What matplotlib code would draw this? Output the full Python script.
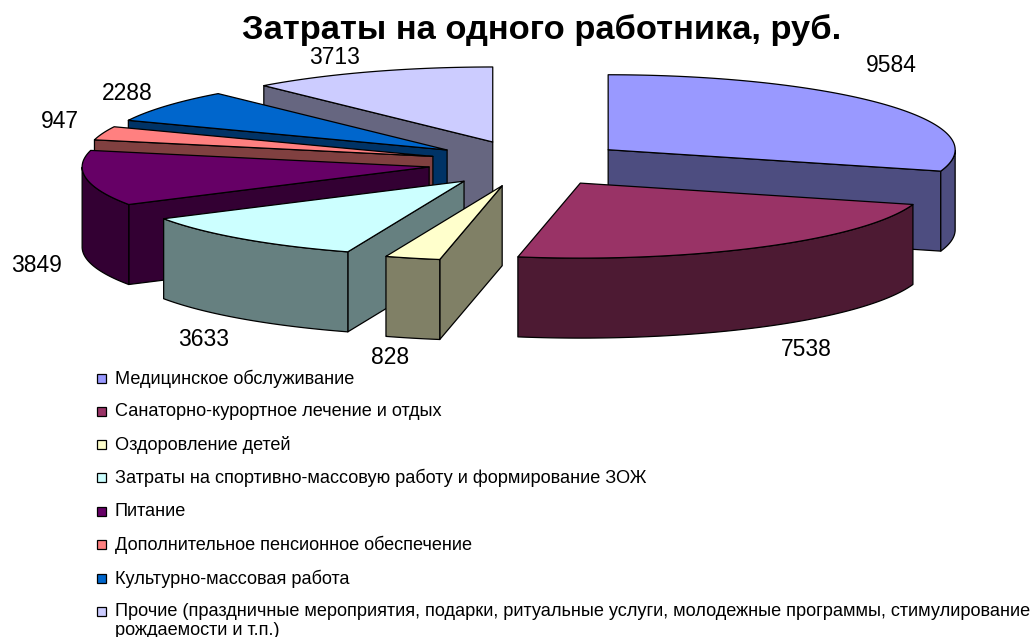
import numpy as np
import matplotlib
matplotlib.use('Agg')
import matplotlib.pyplot as plt
from matplotlib.patches import Polygon, Rectangle

plt.rcParams['font.family'] = ['Liberation Sans', 'DejaVu Sans']

title = 'Затраты на одного работника, руб.'
values = [9584, 7538, 828, 3633, 3849, 947, 2288, 3713]
categories = [
    'Медицинское обслуживание',
    'Санаторно-курортное лечение и отдых',
    'Оздоровление детей',
    'Затраты на спортивно-массовую работу и формирование ЗОЖ',
    'Питание',
    'Дополнительное пенсионное обеспечение',
    'Культурно-массовая работа',
    'Прочие (праздничные мероприятия, подарки, ритуальные услуги, молодежные программы, стимулирование\nрождаемости и т.п.)',
]
top_colors = ['#9999FF', '#993366', '#FFFFCC', '#CCFFFF', '#660066', '#FF8080', '#0066CC', '#CCCCFF']
side_colors = ['#4D4D80', '#4D1A33', '#808066', '#668080', '#330033', '#804040', '#003366', '#666680']

# where the value labels sit, in pixels
label_pos = [(891, 65), (806, 349), (390, 358), (204, 339), (37, 266), (60, 122), (127, 94), (335, 57)]
legend_y = [378, 411, 444, 477, 511, 544, 578, 611]

W, H = 1032, 637
cx, cy = 528, 163.5   # pie centre before explosion
rx, ry = 347, 75
ex, ey = 100, 23      # explosion
depth = 80


def rim(t, x0, y0):
    return x0 + rx * np.sin(t), y0 - ry * np.cos(t)


fig = plt.figure(figsize=(W / 100, H / 100), dpi=100, facecolor='white')
ax = fig.add_axes([0, 0, 1, 1])
ax.set_xlim(0, W)
ax.set_ylim(H, 0)
ax.axis('off')

edges = np.cumsum([0] + values) / sum(values) * 2 * np.pi
slices = []
for i in range(len(values)):
    t0, t1 = edges[i], edges[i + 1]
    mid = (t0 + t1) / 2
    slices.append((cy - ey * np.cos(mid), cx + ex * np.sin(mid), t0, t1, i))

for y0, x0, t0, t1, i in sorted(slices):
    ts = np.linspace(t0, t1, 120)
    xs, ys = rim(ts, x0, y0)
    kw = dict(edgecolor='black', linewidth=0.9, joinstyle='round')

    # radial faces turned to the viewer
    for t, visible in ((t0, np.sin(t0) < 0), (t1, np.sin(t1) > 0)):
        if visible:
            xe, ye = rim(t, x0, y0)
            ax.add_patch(Polygon([(x0, y0), (xe, ye), (xe, ye + depth), (x0, y0 + depth)],
                                 facecolor=side_colors[i], **kw))
    # outer wall, front half only
    front = ts[(ts >= np.pi / 2) & (ts <= 3 * np.pi / 2)]
    if len(front) > 1:
        xf, yf = rim(front, x0, y0)
        wall = np.r_[np.c_[xf, yf], np.c_[xf, yf + depth][::-1]]
        ax.add_patch(Polygon(wall, facecolor=side_colors[i], **kw))
    # top
    ax.add_patch(Polygon(np.r_[[[x0, y0]], np.c_[xs, ys]], facecolor=top_colors[i], **kw))

for val, (lx, ly) in zip(values, label_pos):
    ax.text(lx, ly, str(val), fontsize=16.5, ha='center', va='center', color='black')

ax.text(542, 30, title, fontsize=24.8, fontweight='bold', ha='center', va='center', color='black')

for name, col, y in zip(categories, top_colors, legend_y):
    ax.add_patch(Rectangle((97, y - 4), 9, 9, facecolor=col, edgecolor='black', linewidth=0.9))
    ax.text(115, y - 8, name, fontsize=13.1, ha='left', va='top', color='black', linespacing=1.12)

fig.savefig('out.png', dpi=100, facecolor='white')
